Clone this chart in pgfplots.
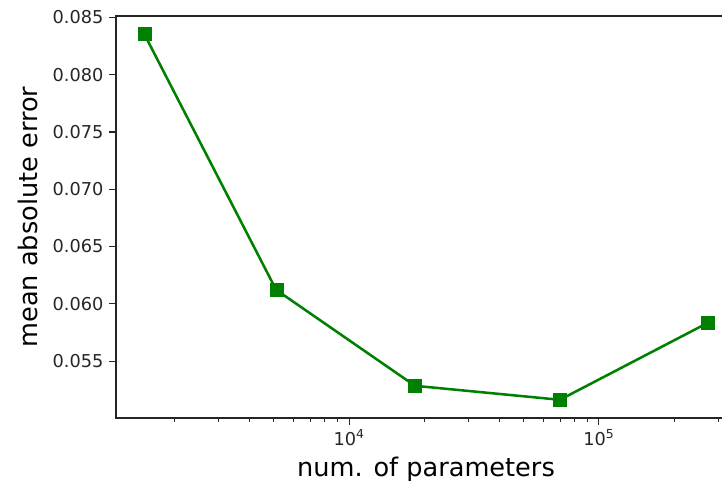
\documentclass[border=0pt]{standalone}
\usepackage{pgfplots}
\pgfplotsset{compat=1.18}
\usepackage{fontspec}
\setmainfont{DejaVu Sans}
\definecolor{mplgreen}{rgb}{0,0.5,0}
\definecolor{spine}{rgb}{0.15,0.15,0.15}
\begin{document}
\begin{tikzpicture}
\begin{axis}[
  at={(0,0)}, anchor=south west,
  scale only axis,
  width=465pt, height=301.5pt,
  xmode=log,
  xmin=1167, xmax=354000,
  ymin=0.05003, ymax=0.08513,
  scaled y ticks=false,
  axis line style={spine, line width=0.85pt},
  tick style={spine, line width=0.85pt},
  tick align=outside,
  xtick pos=lower, ytick pos=left,
  major tick length=5pt,
  minor tick length=3pt,
  xtick={10000,100000},
  xticklabels={10\textsuperscript{4},10\textsuperscript{5}},
  minor xtick={2000,3000,4000,5000,6000,7000,8000,9000,20000,30000,40000,50000,60000,70000,80000,90000,200000,300000},
  ytick={0.055,0.060,0.065,0.070,0.075,0.080,0.085},
  yticklabels={0.055,0.060,0.065,0.070,0.075,0.080,0.085},
  ticklabel style={font=\fontsize{13.3}{15}\selectfont, text=spine},
  yticklabel style={xshift=-1pt},
  xlabel={num. of parameters},
  ylabel={mean absolute error},
  label style={font=\fontsize{19.2}{22}\selectfont, text=black},
  xlabel style={yshift=-1.5pt},
  ylabel style={yshift=4pt},
]
\addplot[color=mplgreen, line width=1.9pt, mark=square*, mark size=4.9pt, mark options={fill=mplgreen, draw=mplgreen, line width=0.1pt}]
coordinates {
(1514, 0.08356)
(5105, 0.06122)
(18370, 0.05284)
(69823, 0.05162)
(272900, 0.05834)
};
\end{axis}
\pgfresetboundingbox
\useasboundingbox (-87pt,-47.25pt) rectangle (454.5pt,313.5pt);
\end{tikzpicture}
\end{document}
